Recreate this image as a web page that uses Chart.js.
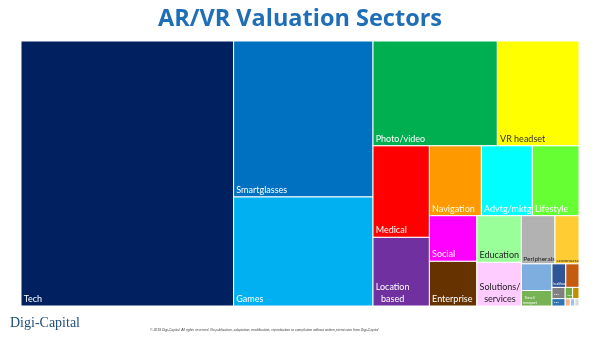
<!DOCTYPE html>
<html>
<head>
<meta charset="utf-8">
<script src="https://cdn.jsdelivr.net/npm/chart.js@4"></script>
<style>
  html, body { margin: 0; padding: 0; background: #fff; }
  #wrap { position: relative; width: 600px; height: 337px; }
  #brand { position: absolute; left: 10px; top: 315px; font: 14px "Liberation Serif", serif; color: #1F4E79; }
  #copy { position: absolute; left: 150px; top: 328px; width: 225px; text-align: center; font: italic 3.4px "Liberation Sans", sans-serif; color: #404040; white-space: nowrap; }
</style>
</head>
<body>
<div id="wrap">
  <canvas id="out" width="600" height="337"></canvas>
  <div id="brand">Digi-Capital</div>
  <div id="copy">© 2019 Digi-Capital. All rights reserved. No publication, adaptation, modification, reproduction or compilation without written permission from Digi-Capital</div>
</div>
<script>
// sector share of total valuation (%)
const sectors = ["Tech", "Smartglasses", "Games", "Photo/video", "VR headset", "Medical",
  "Location\nbased", "Navigation", "Advtg/mktg", "Lifestyle", "Social", "Enterprise",
  "Education", "Solutions/\nservices", "Peripherals", "ecommerce", "", "Travel/\ntransport",
  "healthcare", "", "...", "...", "...", "", "", "", ""];
const shares = [37.99, 14.66, 10.25, 8.79, 5.77, 3.48,
  2.61, 2.45, 2.40, 2.20, 1.46, 1.43,
  1.40, 1.31, 1.09, 0.78, 0.55, 0.32,
  0.22, 0.21, 0.10, 0.066, 0.057, 0.049, 0.025, 0.022, 0.02];

const cellColors = ["#002060", "#0070C0", "#00B0F0", "#00B050", "#FFFF00", "#FF0000",
  "#7030A0", "#FF9900", "#00FFFF", "#66FF33", "#FF00FF", "#663300",
  "#99FF99", "#FFCCFF", "#B2B2B2", "#FFCC33", "#7DAEDF", "#77B255",
  "#2F5597", "#C55A11", "#808080", "#2E75B6", "#70AD47", "#BF9000", "#F4B183", "#9DC3E6", "#D9D9D9"];
const textColors = ["#fff", "#fff", "#fff", "#fff", "#333", "#fff",
  "#fff", "#FFFFE0", "#fff", "#fff", "#fff", "#fff",
  "#222", "#222", "#222", "#222", "#fff", "#fff",
  "#fff", "#fff", "#fff", "#fff", "#fff", "#fff", "#fff", "#fff", "#fff"];
const fontSizes = [9, 9, 9, 9, 9, 9,
  9, 9, 9, 9, 9, 9,
  9, 9, 6.5, 4.5, 5, 3.5,
  3, 4, 7, 7, 7, 4, 4, 4, 4];

// area of the plot in scale units (same aspect as the drawing area)
const areaW = 558, areaH = 265;

function worst(row, side) {
  const sum = row.reduce((a, b) => a + b, 0);
  const mx = Math.max(...row), mn = Math.min(...row);
  return Math.max(side * side * mx / (sum * sum), sum * sum / (side * side * mn));
}

function squarify(vals, W, H) {
  const total = vals.reduce((a, b) => a + b, 0);
  const areas = vals.map(v => v * W * H / total);
  const rects = [];
  let x = 0, y = 0, w = W, h = H, i = 0;
  while (i < areas.length) {
    const side = Math.min(w, h);
    let row = [areas[i]];
    let j = i + 1;
    while (j < areas.length && worst(row.concat(areas[j]), side) <= worst(row, side)) {
      row.push(areas[j]);
      j++;
    }
    const sum = row.reduce((a, b) => a + b, 0);
    if (w >= h) {
      const cw = sum / h;
      let cy = y;
      row.forEach(a => { rects.push({x0: x, x1: x + cw, y0: cy, y1: cy + a / cw}); cy += a / cw; });
      x += cw; w -= cw;
    } else {
      const rh = sum / w;
      let cx = x;
      row.forEach(a => { rects.push({x0: cx, x1: cx + a / rh, y0: y, y1: y + rh}); cx += a / rh; });
      y += rh; h -= rh;
    }
    i = j;
  }
  return rects;
}

const cells = squarify(shares, areaW, areaH);

const treemapPlugin = {
  id: "treemap",
  afterDatasetsDraw(chart) {
    const ctx = chart.ctx;
    const xs = chart.scales.x, ys = chart.scales.y;
    ctx.save();
    cells.forEach((c, k) => {
      const l = xs.getPixelForValue(c.x0), r = xs.getPixelForValue(c.x1);
      const t = ys.getPixelForValue(c.y0), b = ys.getPixelForValue(c.y1);
      ctx.fillStyle = cellColors[k];
      ctx.fillRect(l, t, r - l, b - t);
      ctx.strokeStyle = "#fff";
      ctx.lineWidth = 1;
      ctx.strokeRect(l, t, r - l, b - t);
      const label = sectors[k];
      if (!label) return;
      const fs = fontSizes[k];
      ctx.font = fs + "px Lato, 'Open Sans', sans-serif";
      ctx.fillStyle = textColors[k];
      ctx.textBaseline = "alphabetic";
      const lines = label.split("\n");
      const widest = Math.max(...lines.map(s => ctx.measureText(s).width));
      const lh = fs * 1.3;
      const pad = Math.max(1.5, fs * 0.3);
      lines.forEach((s, n) => {
        const lw = ctx.measureText(s).width;
        const by = b - pad - fs * 0.15 - (lines.length - 1 - n) * lh;
        ctx.fillText(s, l + pad + (widest - lw) / 2, by);
      });
    });
    ctx.restore();
  }
};

const canvasCtx = document.getElementById("out").getContext("2d");
new Chart(canvasCtx, {
  type: "scatter",
  data: {
    datasets: [{
      data: cells.map(c => ({x: (c.x0 + c.x1) / 2, y: (c.y0 + c.y1) / 2})),
      pointRadius: 0
    }]
  },
  options: {
    responsive: false,
    animation: false,
    layout: { padding: { left: 21, right: 21, top: 0, bottom: 31 } },
    scales: {
      x: { display: false, min: 0, max: areaW },
      y: { display: false, min: 0, max: areaH, reverse: true }
    },
    plugins: {
      legend: { display: false },
      tooltip: { enabled: false },
      title: {
        display: true,
        text: "AR/VR Valuation Sectors",
        color: "#1F6FB8",
        font: { family: "'Open Sans', Lato, sans-serif", size: 23.5, weight: "bold", lineHeight: 1.2 },
        padding: { top: 5, bottom: 7.8 }
      }
    }
  },
  plugins: [treemapPlugin]
});
</script>
</body>
</html>
